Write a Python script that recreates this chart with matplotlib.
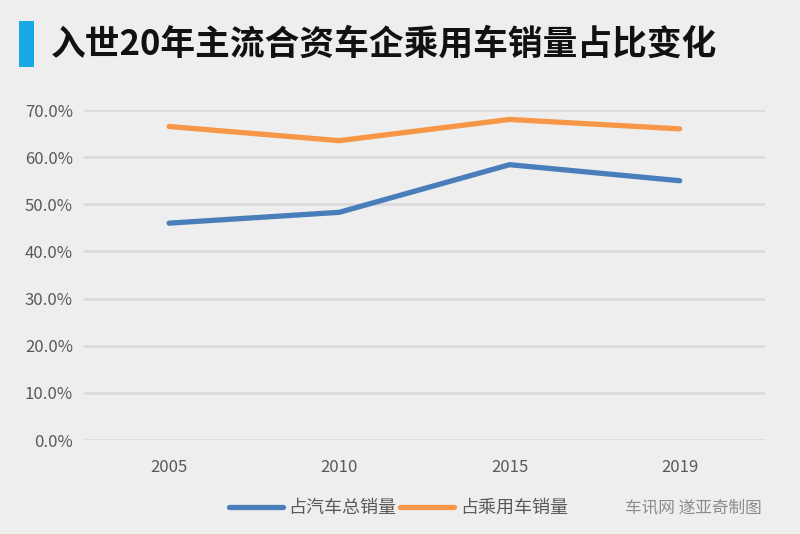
import matplotlib
matplotlib.use("Agg")
import matplotlib.pyplot as plt
from matplotlib.patches import Rectangle

plt.rcParams['font.family'] = ['Noto Sans CJK SC', 'DejaVu Sans']

title = "入世20年主流合资车企乘用车销量占比变化"
years = ["2005", "2010", "2015", "2019"]
share_total = [46.0, 48.3, 58.4, 55.0]
share_passenger = [66.5, 63.5, 68.0, 66.0]
series_names = ["占汽车总销量", "占乘用车销量"]
yticks = [0, 10, 20, 30, 40, 50, 60, 70]
credit = "车讯网 遂亚奇制图"

bg = "#EEEEEE"
fig = plt.figure(figsize=(8, 5.34), dpi=100, facecolor=bg)
ax = fig.add_axes([0.105, 0.176, 0.851, 0.618], facecolor=bg)

x = list(range(len(years)))
l1, = ax.plot(x, share_total, color="#4A7EBB", lw=3.8, solid_capstyle="round", label=series_names[0])
l2, = ax.plot(x, share_passenger, color="#F79646", lw=3.8, solid_capstyle="round", label=series_names[1])

ax.set_xlim(-0.5, len(years) - 0.5)
ax.set_ylim(0, 70)
ax.set_yticks(yticks)
ax.set_yticklabels([f"{v:.1f}%" for v in yticks])
ax.set_xticks(x)
ax.set_xticklabels(years)
ax.grid(axis="y", color="#D9D9D9", lw=1.8)
ax.set_axisbelow(True)
for s in ax.spines.values():
    s.set_visible(False)
ax.tick_params(length=0, labelsize=12, colors="#595959", pad=8)
ax.tick_params(axis="x", pad=14)
for lab in ax.get_yticklabels() + ax.get_xticklabels():
    lab.set_color("#595959")

# title bar and text
fig.patches.append(Rectangle((0.024, 0.875), 0.018, 0.085, transform=fig.transFigure,
                             facecolor="#18A8E6", edgecolor="none"))
fig.text(0.064, 0.918, title, fontsize=25, fontweight="bold", color="#111111",
         va="center", ha="left")

leg = fig.legend(handles=[l1, l2], loc="center", bbox_to_anchor=(0.498, 0.049),
                 ncol=2, frameon=False, fontsize=13, handlelength=3.0,
                 columnspacing=0.2, handletextpad=0.3)
for t in leg.get_texts():
    t.set_color("#595959")

fig.text(0.952, 0.049, credit, fontsize=12, color="#8C8C8C", ha="right", va="center")

fig.savefig("out.png", dpi=100, facecolor=bg)
